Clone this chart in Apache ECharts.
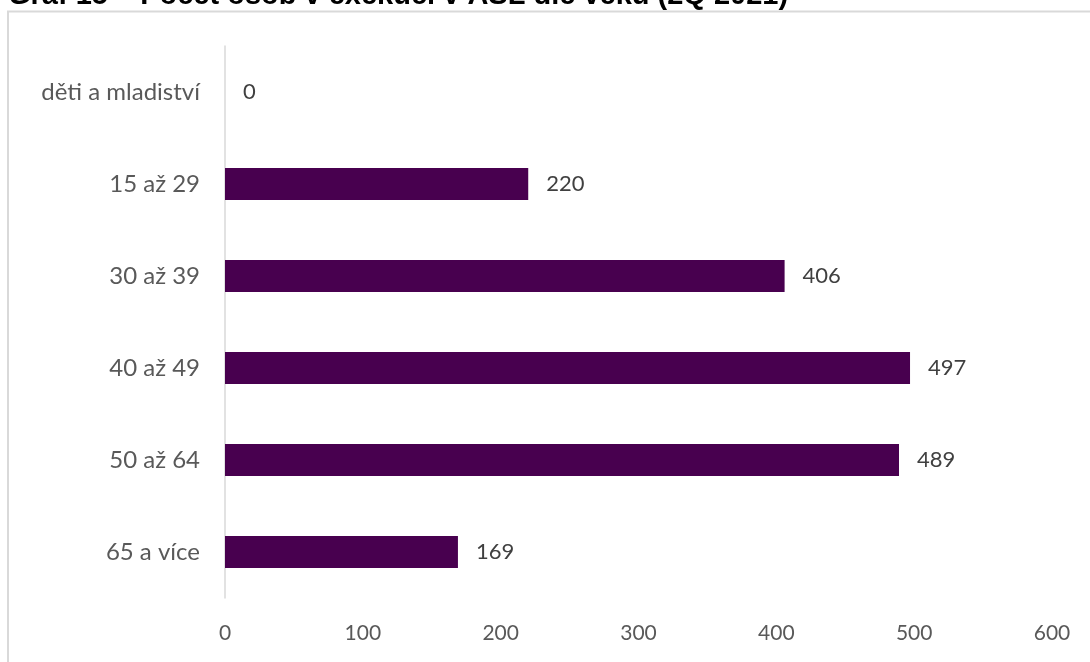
<!DOCTYPE html>
<html><head><meta charset="utf-8">
<script src="https://cdn.jsdelivr.net/npm/echarts@6/dist/echarts.min.js"></script>
<style>html,body{margin:0;padding:0;background:#fff}#c{width:1090px;height:662px}</style>
</head><body><div id="c"></div>
<script>
const titleText = 'Graf 15 – Počet osob v exekuci v ASL dle věku (2Q 2021)';
const categories = ['děti a mladiství', '15 až 29', '30 až 39', '40 až 49', '50 až 64', '65 a více'];
const values = [0, 220, 406, 497, 489, 169];
const xTicks = [0, 100, 200, 300, 400, 500, 600];

const font = 'Lato, "Open Sans", sans-serif';
const chart = echarts.init(document.getElementById('c'), null, {renderer: 'canvas'});
chart.setOption({
  animation: false,
  backgroundColor: '#fff',
  graphic: [
    {type: 'rect', shape: {x: 8, y: 11.5, width: 1100, height: 700}, style: {fill: 'none', stroke: '#d9d9d9', lineWidth: 2}, z: 0},
    {type: 'text', left: 8, top: -19, style: {text: titleText, font: 'bold 29px "Liberation Sans", Arial, sans-serif', fill: '#000'}, z: 10}
  ],
  grid: {left: 225, right: 38, top: 46, bottom: 64},
  xAxis: {
    type: 'value', min: xTicks[0], max: xTicks[xTicks.length - 1], interval: 100,
    axisLine: {show: false}, axisTick: {show: false}, splitLine: {show: false},
    axisLabel: {color: '#595959', fontSize: 21, fontFamily: font, margin: 25}
  },
  yAxis: {
    type: 'category', data: categories, inverse: true,
    axisLine: {show: true, lineStyle: {color: '#d9d9d9', width: 1.5}},
    axisTick: {show: false},
    axisLabel: {color: '#595959', fontSize: 24, fontFamily: font, margin: 25}
  },
  series: [{
    type: 'bar', data: values, barWidth: 32,
    itemStyle: {color: '#48004f'},
    label: {show: true, position: 'right', distance: 18, color: '#404040', fontSize: 22, fontFamily: font}
  }]
});
</script></body></html>
